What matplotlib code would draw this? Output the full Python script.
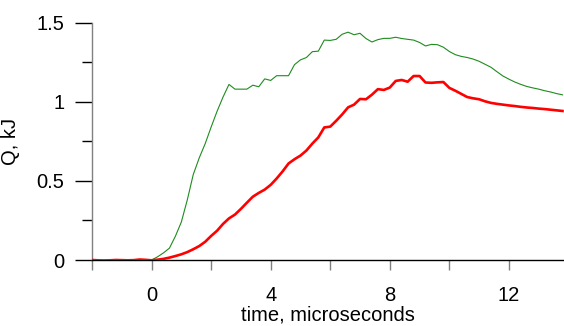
'''plot.py
Heat release Q vs time, two shots.
'''

import matplotlib
matplotlib.use('Agg')
import matplotlib.pyplot as plt
from matplotlib.ticker import FixedLocator, FormatStrFormatter

# time axis, microseconds
time_us = [-2.0, -1.8, -1.6, -1.4, -1.2, -1.0, -0.8, -0.6, -0.4, -0.2,
           0.0, 0.2, 0.4, 0.6, 0.8, 1.0, 1.2, 1.4, 1.6, 1.8,
           2.0, 2.2, 2.4, 2.6, 2.8, 3.0, 3.2, 3.4, 3.6, 3.8,
           4.0, 4.2, 4.4, 4.6, 4.8, 5.0, 5.2, 5.4, 5.6, 5.8,
           6.0, 6.2, 6.4, 6.6, 6.8, 7.0, 7.2, 7.4, 7.6, 7.8,
           8.0, 8.2, 8.4, 8.6, 8.8, 9.0, 9.2, 9.4, 9.6, 9.8,
           10.0, 10.2, 10.4, 10.6, 10.8, 11.0, 11.2, 11.4, 11.6, 11.8,
           12.0, 12.2, 12.4, 12.6, 12.8, 13.0, 13.2, 13.4, 13.6, 13.8]

# Q, kJ - thin green trace
q_green = [0.0, 0.0, 0.0, 0.0, 0.0, 0.0, 0.0, 0.0, 0.0, 0.0,
           0.0, 0.02, 0.045, 0.075, 0.15, 0.24, 0.38, 0.54, 0.645, 0.735,
           0.84, 0.94, 1.03, 1.11, 1.08, 1.08, 1.08, 1.105, 1.095, 1.145,
           1.135, 1.165, 1.165, 1.165, 1.235, 1.265, 1.28, 1.317, 1.32, 1.39,
           1.388, 1.395, 1.427, 1.44, 1.424, 1.433, 1.40, 1.378, 1.393, 1.401,
           1.401, 1.408, 1.40, 1.395, 1.39, 1.375, 1.353, 1.363, 1.361, 1.345,
           1.318, 1.298, 1.287, 1.28, 1.27, 1.256, 1.237, 1.218, 1.19, 1.163,
           1.143, 1.125, 1.11, 1.097, 1.088, 1.08, 1.07, 1.062, 1.052, 1.044]

# Q, kJ - thick red trace
q_red = [0.0, -0.002, -0.004, -0.002, 0.0, -0.001, -0.002, -0.001, 0.003, 0.001,
         -0.002, 0.002, 0.007, 0.015, 0.025, 0.036, 0.05, 0.068, 0.088, 0.115,
         0.152, 0.185, 0.228, 0.263, 0.287, 0.323, 0.362, 0.40, 0.424, 0.445,
         0.475, 0.515, 0.56, 0.61, 0.637, 0.66, 0.692, 0.736, 0.775, 0.838,
         0.843, 0.88, 0.92, 0.965, 0.982, 1.018, 1.016, 1.045, 1.08, 1.075,
         1.09, 1.132, 1.138, 1.127, 1.163, 1.163, 1.122, 1.12, 1.123, 1.125,
         1.088, 1.07, 1.05, 1.03, 1.022, 1.016, 1.003, 0.993, 0.987, 0.982,
         0.977, 0.973, 0.968, 0.964, 0.961, 0.957, 0.954, 0.95, 0.946, 0.942]

x_major = [-2, 0, 4, 8, 12]
x_minor = [2, 6, 10]
x_labels = ['', '0', '4', '8', '12']
y_major = [0, 0.5, 1, 1.5]
y_minor = [0.25, 0.75, 1.25]

plt.rcParams['font.family'] = ['Liberation Sans', 'DejaVu Sans']
plt.rcParams['font.size'] = 14.5

fig = plt.figure(figsize=(5.64, 3.26), dpi=100)
ax = fig.add_axes([92 / 564, 1 - 260 / 326, 1 - 92 / 564, (260 - 22.7) / 326])

ax.plot(time_us, q_green, color='#1e8c1e', lw=0.8, zorder=2)
ax.plot(time_us, q_red, color='#ff0000', lw=1.9, zorder=3)

ax.set_xlim(-2, 13.85)
ax.set_ylim(0, 1.5)

ax.spines['top'].set_visible(False)
ax.spines['right'].set_visible(False)
ax.spines['left'].set_color('#808080')
ax.spines['bottom'].set_color('black')
for sp in ax.spines.values():
    sp.set_linewidth(1.0)

ax.xaxis.set_major_locator(FixedLocator(x_major))
ax.xaxis.set_minor_locator(FixedLocator(x_minor))
ax.set_xticklabels(x_labels)
ax.yaxis.set_major_locator(FixedLocator(y_major))
ax.yaxis.set_minor_locator(FixedLocator(y_minor))
ax.yaxis.set_major_formatter(FormatStrFormatter('%g'))

ax.tick_params(axis='x', which='both', direction='out', length=7, width=1,
               color='#808080', pad=12)
ax.tick_params(axis='y', which='major', direction='out', length=12, width=1,
               color='black', pad=8)
ax.tick_params(axis='y', which='minor', direction='out', length=7, width=1,
               color='black')

ax.set_xlabel('time, microseconds', labelpad=0)
ax.set_ylabel('Q, kJ', labelpad=12)

fig.savefig('out.png', dpi=100)
